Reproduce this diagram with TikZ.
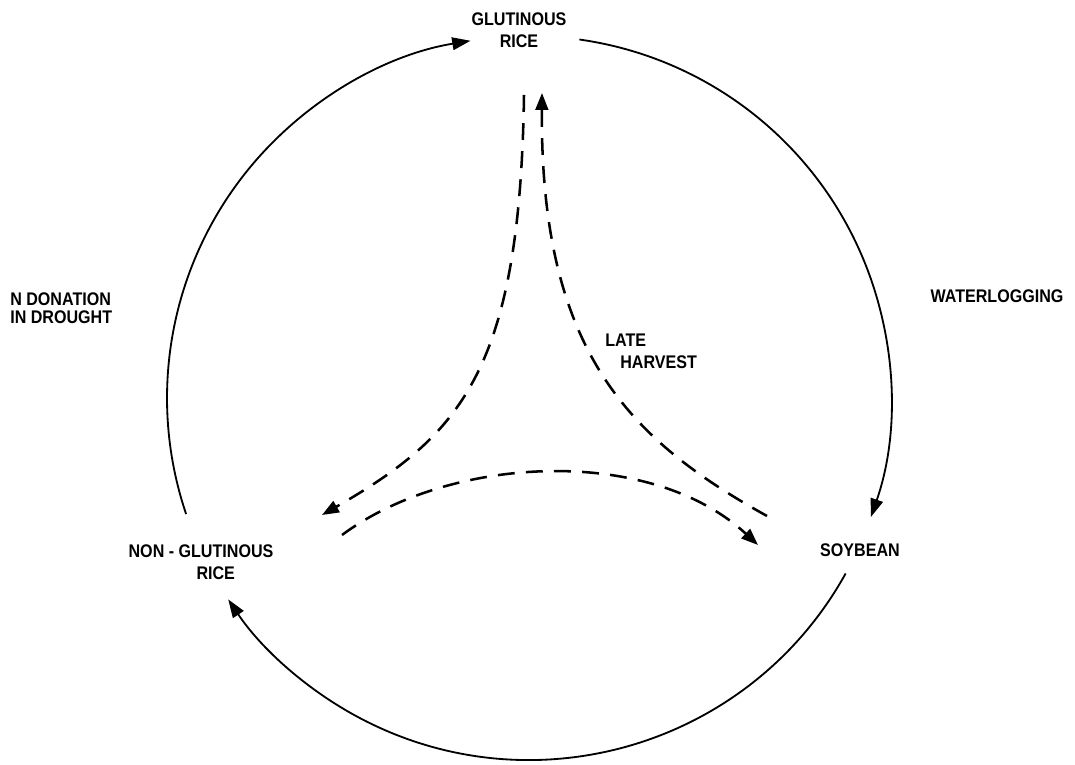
\documentclass[tikz,border=0pt]{standalone}
\usepackage{fontspec}
\setmainfont{Liberation Sans}[FakeStretch=0.88]
\usetikzlibrary{arrows.meta}

\begin{document}
\begin{tikzpicture}[
  cropname/.style={font=\bfseries\fontsize{13}{15.5}\selectfont, align=center, inner sep=0pt},
  rotarrow/.style={line width=1.3pt, -{Triangle[length=13pt,width=9pt]}},
  dasharrow/.style={line width=1.8pt, dash pattern=on 12pt off 8pt, -{Triangle[length=12pt,width=9pt]}}
]
  \useasboundingbox (0,0) rectangle (26.875,19.1);
  % crops in the rotation
  \node[cropname] (glut) at (12.975,18.35) {GLUTINOUS\\RICE};
  \node[cropname] (nonglut) at (5.025,5.05) {NON - GLUTINOUS\\\hspace*{21pt}RICE};
  \node[cropname] (soy) at (21.5,5.35) {SOYBEAN};
  % reasons for the shifts
  \node[cropname, align=left, anchor=west, font=\bfseries\fontsize{13}{13}\selectfont] (drought) at (0.25,11.4) {N DONATION\\IN DROUGHT};
  \node[cropname] (water) at (24.925,11.7) {WATERLOGGING};
  \node[cropname, align=left, anchor=west] (late) at (15.125,10.325) {LATE\\\hspace*{10.7pt}HARVEST};

  % usual rotation: circle round the three crops
  \coordinate (c) at (13.225,9.15);
  \draw[rotarrow] ([shift={(198.7:9.05)}]c) arc[start angle=198.7, end angle=99.3, radius=9.05];
  \draw[rotarrow] ([shift={(82:9.05)}]c) arc[start angle=82, end angle=-19.2, radius=9.05];
  \draw[rotarrow] ([shift={(-29:9.05)}]c) arc[start angle=-29, end angle=-146.2, radius=9.05];

  % shifted rotation
  \coordinate (glutL) at (13.1,16.725);
  \coordinate (glutR) at (13.55,16.775);
  \coordinate (nonglutT) at (8.05,6.225);
  \coordinate (nonglutR) at (8.55,5.725);
  \coordinate (soyT) at (19.175,6.2);
  \coordinate (soyL) at (18.95,5.475);
  \draw[dasharrow] (soyT) .. controls (15.75,8.1) and (13.5,10.3) .. (glutR);
  \draw[dasharrow] (glutL) .. controls (13.0,9.85) and (11.525,8.225) .. (nonglutT);
  \draw[dasharrow] (nonglutR) .. controls (11.25,7.725) and (16.25,7.975) .. (soyL);
\end{tikzpicture}
\end{document}
